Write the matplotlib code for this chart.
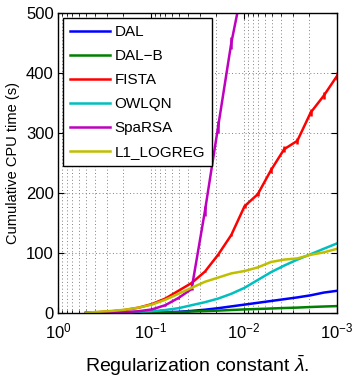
import numpy as np
import matplotlib
matplotlib.use("Agg")
import matplotlib.pyplot as plt
from matplotlib.ticker import LogLocator, NullFormatter

plt.rcParams['font.family'] = ['Liberation Sans', 'DejaVu Sans']
plt.rcParams['mathtext.fontset'] = 'custom'
plt.rcParams['mathtext.rm'] = 'Liberation Sans'
plt.rcParams['mathtext.it'] = 'Liberation Sans:italic'

# regularization constants (lambda grid)
lambdas = [0.5, 0.36, 0.26, 0.19, 0.135, 0.0975, 0.0703, 0.0507, 0.0366, 0.0263,
           0.019, 0.0137, 0.00986, 0.00711, 0.00513, 0.0037, 0.00267, 0.00192, 0.00139, 0.001]

dal = [0.0, 0.1, 0.2, 0.3, 0.5, 0.8, 1.3, 2, 3.5, 5.5, 8, 11, 14, 17, 20, 23, 26, 29.5, 34, 37]
dal_b = [0.0, 0.05, 0.1, 0.2, 0.3, 0.5, 0.8, 1.3, 2.5, 3.2, 4, 5, 6, 6.7, 7.5, 8.3, 9, 10, 10.8, 11.5]
fista = [0.5, 1.5, 3, 5, 9, 15, 24, 37, 50, 69, 97, 130, 178, 198, 238, 273, 287, 334, 362, 395]
fista_err = [0, 0, 0, 0, 0, 0, 0, 0, 1, 1, 2, 2, 3, 3, 5, 5, 5, 6, 6, 6]
owlqn = [0.1, 0.3, 0.6, 1, 2, 3, 5, 8, 13, 18, 24, 32, 42, 55, 68, 79, 89, 98, 107, 116]
sparsa = [0.2, 0.4, 0.8, 1.5, 3, 6, 13, 25, 40, 170, 310, 450, 560]
sparsa_err = [0, 0, 0, 0, 0, 0, 1, 1, 2, 8, 10, 10, 10]
l1_logreg = [0.5, 2, 3.5, 5.5, 9, 14, 22, 32, 42, 52, 59, 66, 70, 76, 85, 89, 91, 97, 101, 107]

c_dal = (0, 0, 1)
c_dalb = (0, 0.5, 0)
c_fista = (1, 0, 0)
c_owl = (0, 0.75, 0.75)
c_spa = (0.75, 0, 0.75)
c_l1 = (0.75, 0.75, 0)

fig = plt.figure(figsize=(3.55, 3.78), dpi=100)
ax = fig.add_axes([58 / 355, 65 / 378, 279 / 355, 300 / 378])

lw = 1.8
ax.plot(lambdas, dal, color=c_dal, lw=lw, label='DAL')
ax.plot(lambdas, dal_b, color=c_dalb, lw=lw, label='DAL\u2212B')
ax.plot(lambdas, fista, color=c_fista, lw=lw, label='FISTA')
ax.errorbar(lambdas, fista, yerr=fista_err, fmt='none', ecolor=c_fista, elinewidth=lw, capsize=0)
ax.plot(lambdas, owlqn, color=c_owl, lw=lw, label='OWLQN')
ax.plot(lambdas[:len(sparsa)], sparsa, color=c_spa, lw=lw, label='SpaRSA')
ax.errorbar(lambdas[:len(sparsa)], sparsa, yerr=sparsa_err, fmt='none', ecolor=c_spa,
            elinewidth=lw, capsize=0)
ax.plot(lambdas, l1_logreg, color=c_l1, lw=lw, label='L1_LOGREG')

ax.set_xscale('log')
ax.set_xlim(1, 1e-3)
ax.set_ylim(0, 500)
ax.set_yticks([0, 100, 200, 300, 400, 500])
ax.set_xticks([1, 0.1, 0.01, 0.001])
ax.set_xticklabels([r'$10^{0}$', r'$10^{-1}$', r'$10^{-2}$', r'$10^{-3}$'])
ax.xaxis.set_minor_locator(LogLocator(base=10, subs=np.arange(2, 10)))
ax.xaxis.set_minor_formatter(NullFormatter())

ax.tick_params(which='both', direction='in', top=True, right=True, labelsize=12)
ax.tick_params(axis='x', pad=6)
ax.tick_params(axis='y', pad=3)
ax.tick_params(which='major', length=4)
ax.tick_params(which='minor', length=2)
dots = (0, (1, 2.5))
ax.grid(True, which='major', linestyle=dots, color='0.5', lw=0.7)
ax.grid(True, which='minor', axis='x', linestyle=dots, color='0.5', lw=0.7)
for s in ax.spines.values():
    s.set_linewidth(1.0)

ax.set_ylabel('Cumulative CPU time (s)', fontsize=10.5, labelpad=4)
ax.set_xlabel(r'Regularization constant $\bar{\lambda}$.', fontsize=14, labelpad=9)

leg = ax.legend(loc='upper left', fontsize=11, handlelength=2.6, handletextpad=0.3,
                labelspacing=0.65, borderpad=0.45, fancybox=False, framealpha=1,
                edgecolor='black', borderaxespad=0.35)
leg.get_frame().set_linewidth(1.0)

fig.savefig('out.png', dpi=100)
